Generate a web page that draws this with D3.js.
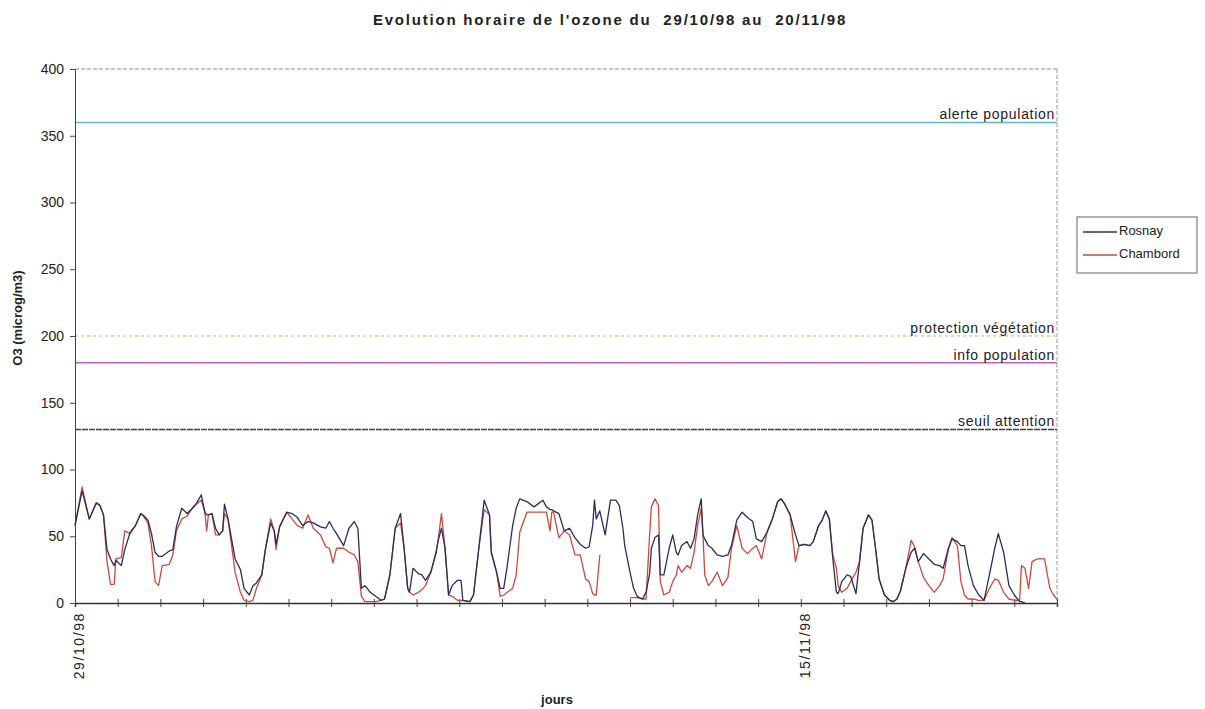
<!DOCTYPE html>
<html><head><meta charset="utf-8">
<script src="https://cdn.jsdelivr.net/npm/d3@7"></script>
<style>
html,body{margin:0;padding:0;background:#fff;}
svg text{font-family:Arial,"Liberation Sans",sans-serif;}
</style></head>
<body>
<svg id="chart" width="1205" height="709"></svg>
<script>
// ---- data (hour index from 29/10/98 00h) ----
const title = "Evolution horaire de l'ozone du  29/10/98 au  20/11/98";
const yTitle = "O3 (microg/m3)";
const xTitle = "jours";
const dayLabels = ["29/10/98", "15/11/98"];
const dayLabelIdx = [0, 17];
const nDays = 23;
const yTicks = [0, 50, 100, 150, 200, 250, 300, 350, 400];

const seriesNames = ["Rosnay", "Chambord"];
const seriesColors = ["#2a2d5c", "#cc4a3c"];

const rosnayHours = [0,4,8,12,14,16,18,20,22,23,26,28,31,34,37,39,41,43,45,47,49,53,55,57,60,63,66,68,71,73,74,75,77,79,81,83,84,86,88,90,93,95,98,100,102,105,107,110,112,113,115,119,122,125,128,131,134,138,141,143,145,147,151,154,157,159,161,163,166,169,172,174,177,180,183,185,187,188,190,193,195,197,200,203,204,206,208,210,212,215,217,218,222,224,227,230,233,234,237,239,241,243,246,248,250,254,258,263,265,267,268,269,272,275,278,281,284,287,289,291,292,293,295,298,301,304,306,308,309,312,314,316,319,321,323,324,326,328,329,331,334,336,338,339,341,344,346,348,350,352,353,354,356,358,361,364,367,369,372,375,378,381,383,386,389,392,395,397,399,402,405,407,410,413,415,418,420,422,424,426,428,429,431,434,436,439,441,443,446,448,450,452,455,458,460,462,464,467,470,472,474,477,480,483,486,488,491,493,496,498,500,502,505,508,511,514,517,519,522,525,528,531,532,534];
const rosnayValues = [58,84,63,75,73,66,40,33,28,32,28,40,53,58,67,65,62,52,38,35,35,39,40,57,71,67,71,74,81,68,66,66,67,56,51,54,74,63,48,33,25,11,6,13,15,21,40,60,54,44,57,68,67,64,58,61,60,57,56,61,56,52,43,56,61,56,11,13,8,5,2,3,21,56,67,41,11,8,26,22,21,17,23,38,46,56,41,6,13,17,17,2,1,6,41,77,66,38,23,11,11,28,58,71,78,76,72,77,72,70,70,69,67,54,56,49,44,41,42,58,77,63,69,51,77,77,73,56,43,23,11,5,3,8,22,41,49,51,21,21,41,51,38,36,43,46,41,48,66,78,51,48,43,41,36,35,36,43,62,68,64,61,48,46,53,63,76,78,74,66,51,43,44,43,46,58,62,69,63,33,8,7,16,21,20,7,31,56,66,62,41,18,6,2,1,3,9,26,38,41,31,37,33,29,28,26,41,48,46,43,43,28,13,6,2,21,41,52,38,13,6,1,1,0];

const chambordHours = [0,4,8,12,14,16,18,20,22,23,26,28,31,34,37,39,41,43,45,47,49,53,55,57,60,63,66,68,71,73,74,75,77,79,81,83,84,86,88,90,93,95,98,100,102,105,107,110,112,113,115,119,122,125,128,131,134,138,141,143,145,147,151,154,157,159,161,163,166,169,172,174,177,180,183,185,187,188,190,193,195,197,200,203,204,206,208,210,212,215,217,218,222,224,227,230,233,234,237,239,241,243,246,248,250,254,258,263,265,267,268,269,272,275,278,281,284,287,289,291,292,293,295,296,312,314,316,319,321,323,324,326,328,329,331,334,336,338,339,341,344,346,348,350,352,353,354,356,358,361,364,367,369,372,375,378,381,383,386,389,392,395,397,399,402,405,407,410,413,415,418,420,422,424,426,428,429,431,434,436,439,441,443,446,448,450,452,455,458,460,462,464,467,470,472,474,477,480,483,486,488,491,493,496,498,500,502,505,508,511,514,517,519,522,525,528,531,532,534,536,538,541,545,548,550,552];
const chambordValues = [58,87,63,75,73,66,31,14,14,33,34,54,52,58,67,64,60,43,16,13,28,29,36,54,63,65,71,74,77,68,54,66,67,51,51,54,67,63,43,23,8,2,1,2,11,21,40,63,54,40,57,68,63,58,56,66,56,51,42,41,30,41,41,38,36,31,5,1,1,1,2,3,21,56,60,41,11,8,6,8,10,13,23,38,46,67,41,6,5,2,2,2,1,6,41,70,66,38,23,5,6,8,11,21,53,68,68,68,68,54,68,68,49,54,51,36,36,18,16,7,6,6,36,null,4,4,4,3,3,51,72,78,73,16,6,8,16,21,28,23,28,26,38,58,71,51,21,13,16,23,13,19,41,58,41,37,41,43,33,53,63,76,78,74,66,31,43,44,43,46,58,62,69,63,36,26,13,8,11,16,23,31,56,66,62,41,18,6,2,1,3,9,26,47,42,31,19,13,8,13,18,41,49,43,16,6,3,3,2,2,11,18,17,8,3,2,2,28,26,11,31,33,33,11,6,3];

const thrValues = [360, 200, 180, 130];
const thrLabels = ["alerte population", "protection végétation", "info population", "seuil attention"];
const thrColors = ["#62afe6", "#c9d88a", "#c85ac8", "#4a3552"];
const thrDash = [null, "3,3", null, "6,1"];

// ---- layout ----
const svg = d3.select("#chart");
const m = {left: 75, top: 69, right: 1057, bottom: 603};
const x = d3.scaleLinear().domain([0, nDays * 24]).range([m.left, m.right]);
const y = d3.scaleLinear().domain([0, 400]).range([m.bottom, m.top]);

// plot-area border (top/right dashed grey)
svg.append("line").attr("x1", m.left).attr("x2", m.right).attr("y1", m.top).attr("y2", m.top)
  .attr("stroke", "#8a8a8a").attr("stroke-dasharray", "4,2").attr("stroke-width", 1);
svg.append("line").attr("x1", m.right).attr("x2", m.right).attr("y1", m.top).attr("y2", m.bottom)
  .attr("stroke", "#9a9a9a").attr("stroke-dasharray", "4,2").attr("stroke-width", 1);

// threshold lines
thrValues.forEach((v, i) => {
  svg.append("line").attr("x1", m.left).attr("x2", m.right)
    .attr("y1", y(v)).attr("y2", y(v))
    .attr("stroke", thrColors[i]).attr("stroke-width", i === 1 ? 1.3 : 1.5)
    .attr("stroke-dasharray", thrDash[i]);
  svg.append("text").attr("x", m.right - 2).attr("y", y(v) - 3)
    .attr("text-anchor", "end").attr("font-size", 14).attr("letter-spacing", 0.7)
    .attr("fill", "#222")
    .text(thrLabels[i]);
});

// axes
const yAxis = d3.axisLeft(y).tickValues(yTicks).tickSize(5).tickPadding(6);
const gy = svg.append("g").attr("transform", `translate(${m.left},0)`).call(yAxis);
gy.select(".domain").attr("stroke", "#444");
gy.selectAll(".tick line").attr("stroke", "#444");
gy.selectAll("text").attr("font-size", 14).attr("fill", "#222");

const dayTicks = d3.range(0, nDays + 1).map(d => d * 24);
const xAxis = d3.axisBottom(x).tickValues(dayTicks).tickSize(4).tickFormat("");
const gx = svg.append("g").attr("transform", `translate(0,${m.bottom})`).call(xAxis);
gx.select(".domain").attr("stroke", "#333").attr("stroke-width", 1.5);
gx.selectAll(".tick line").attr("stroke", "#444").attr("y1", -4);

dayLabelIdx.forEach((d, i) => {
  const px = x(d * 24) + 5;
  svg.append("text")
    .attr("transform", `translate(${px},612) rotate(-90)`)
    .attr("text-anchor", "end").attr("dominant-baseline", "middle")
    .attr("font-size", 14).attr("letter-spacing", 1.6).attr("fill", "#222")
    .text(dayLabels[i]);
});

// series
const line = d3.line().defined(d => d[1] !== null)
  .x(d => x(d[0])).y(d => y(d[1]));
const seriesData = [
  d3.zip(rosnayHours, rosnayValues),
  d3.zip(chambordHours, chambordValues)
];
[1, 0].forEach(i => {
  svg.append("path").datum(seriesData[i]).attr("d", line)
    .attr("fill", "none").attr("stroke", seriesColors[i]).attr("stroke-width", 1.3)
    .attr("stroke-linejoin", "round");
});

// titles
svg.append("text").attr("x", 610).attr("y", 25).attr("text-anchor", "middle")
  .attr("font-size", 15).attr("font-weight", "bold").attr("letter-spacing", 1.8).attr("fill", "#222")
  .style("white-space", "pre").text(title);
svg.append("text").attr("transform", "translate(22,318) rotate(-90)")
  .attr("text-anchor", "middle").attr("font-size", 13).attr("font-weight", "bold").attr("fill", "#222")
  .text(yTitle);
svg.append("text").attr("x", 557).attr("y", 704).attr("text-anchor", "middle")
  .attr("font-size", 13).attr("font-weight", "bold").attr("fill", "#222").text(xTitle);

// legend
const lg = svg.append("g").attr("transform", "translate(1077,217)");
lg.append("rect").attr("width", 120).attr("height", 56)
  .attr("fill", "#fff").attr("stroke", "#666").attr("stroke-width", 1);
seriesNames.forEach((n, i) => {
  const yy = 15 + i * 23;
  lg.append("line").attr("x1", 6).attr("x2", 40).attr("y1", yy).attr("y2", yy)
    .attr("stroke", seriesColors[i]).attr("stroke-width", 1.5);
  lg.append("text").attr("x", 42).attr("y", yy).attr("dominant-baseline", "middle")
    .attr("font-size", 13).attr("fill", "#222").text(n);
});
</script>
</body></html>
